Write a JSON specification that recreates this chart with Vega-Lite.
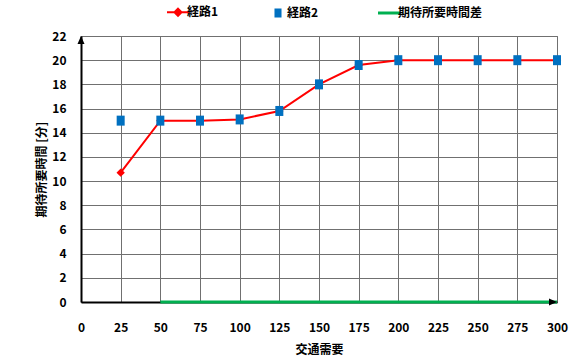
{
  "$schema": "https://vega.github.io/schema/vega-lite/v6.json",
  "width": 476,
  "height": 266,
  "autosize": "none",
  "padding": {"left": 81, "top": 36, "right": 17, "bottom": 58},
  "background": "white",
  "config": {
    "view": {"stroke": "#707070", "strokeWidth": 1},
    "font": "Liberation Sans Narrow, Noto Sans CJK JP",
    "axis": {
      "labelFont": "Liberation Sans Narrow, Noto Sans CJK JP",
      "labelFontWeight": "bold",
      "labelFontSize": 12,
      "labelColor": "#000000",
      "titleFont": "Liberation Sans Narrow, Noto Sans CJK JP",
      "titleFontWeight": "bold",
      "titleFontSize": 12,
      "titleColor": "#000000",
      "gridColor": "#707070",
      "gridWidth": 1,
      "gridOpacity": 1,
      "ticks": false,
      "domainColor": "#000000",
      "domainWidth": 2
    }
  },
  "datasets": {
    "main": [
      {"series": "経路1", "x": 25, "y": 10.7},
      {"series": "経路1", "x": 50, "y": 15},
      {"series": "経路1", "x": 75, "y": 15},
      {"series": "経路1", "x": 100, "y": 15.1},
      {"series": "経路1", "x": 125, "y": 15.8},
      {"series": "経路1", "x": 150, "y": 18},
      {"series": "経路1", "x": 175, "y": 19.6},
      {"series": "経路1", "x": 200, "y": 20},
      {"series": "経路1", "x": 225, "y": 20},
      {"series": "経路1", "x": 250, "y": 20},
      {"series": "経路1", "x": 275, "y": 20},
      {"series": "経路1", "x": 300, "y": 20},
      {"series": "経路2", "x": 25, "y": 15},
      {"series": "経路2", "x": 50, "y": 15},
      {"series": "経路2", "x": 75, "y": 15},
      {"series": "経路2", "x": 100, "y": 15.1},
      {"series": "経路2", "x": 125, "y": 15.8},
      {"series": "経路2", "x": 150, "y": 18},
      {"series": "経路2", "x": 175, "y": 19.6},
      {"series": "経路2", "x": 200, "y": 20},
      {"series": "経路2", "x": 225, "y": 20},
      {"series": "経路2", "x": 250, "y": 20},
      {"series": "経路2", "x": 275, "y": 20},
      {"series": "経路2", "x": 300, "y": 20},
      {"series": "期待所要時間差", "x": 50, "y": 0},
      {"series": "期待所要時間差", "x": 75, "y": 0},
      {"series": "期待所要時間差", "x": 100, "y": 0},
      {"series": "期待所要時間差", "x": 125, "y": 0},
      {"series": "期待所要時間差", "x": 150, "y": 0},
      {"series": "期待所要時間差", "x": 175, "y": 0},
      {"series": "期待所要時間差", "x": 200, "y": 0},
      {"series": "期待所要時間差", "x": 225, "y": 0},
      {"series": "期待所要時間差", "x": 250, "y": 0},
      {"series": "期待所要時間差", "x": 275, "y": 0},
      {"series": "期待所要時間差", "x": 300, "y": 0}
    ],
    "arrows": [
      {"dir": "up", "x": 0, "y": 22},
      {"dir": "right", "x": 300, "y": 0}
    ]
  },
  "data": {"name": "main"},
  "encoding": {
    "x": {
      "field": "x", "type": "quantitative",
      "scale": {"domain": [0, 300], "nice": false},
      "axis": {"values": [0, 25, 50, 75, 100, 125, 150, 175, 200, 225, 250, 275, 300], "labelPadding": 20, "title": "交通需要", "titlePadding": 11, "labelFlush": false}
    },
    "y": {
      "field": "y", "type": "quantitative",
      "scale": {"domain": [0, 22], "nice": false},
      "axis": {"values": [0, 2, 4, 6, 8, 10, 12, 14, 16, 18, 20, 22], "labelPadding": 15, "title": "期待所要時間 [分]", "titlePadding": 3}
    }
  },
  "layer": [
    {
      "transform": [{"filter": "datum.series === '期待所要時間差'"}],
      "mark": {"type": "line", "color": "#00B050", "strokeWidth": 3}
    },
    {
      "transform": [{"filter": "datum.series === '経路1'"}],
      "mark": {"type": "line", "color": "#FF0000", "strokeWidth": 2}
    },
    {
      "transform": [{"filter": "datum.series === '経路1'"}],
      "mark": {"type": "point", "filled": true, "color": "#FF0000", "opacity": 1, "shape": "diamond", "size": 70}
    },
    {
      "transform": [{"filter": "datum.series === '経路2'"}],
      "mark": {"type": "point", "filled": true, "color": "#0070C0", "opacity": 1, "shape": "M-0.8,-1H0.8V1H-0.8Z", "size": 100}
    },
    {
      "mark": {"type": "point", "filled": true, "opacity": 0},
      "encoding": {
        "color": {
          "field": "series", "type": "nominal",
          "scale": {"domain": ["経路1", "経路2", "期待所要時間差"], "range": ["#FF0000", "#0070C0", "#00B050"]},
          "legend": {
            "orient": "none", "legendX": 91, "legendY": -30, "direction": "horizontal",
            "title": null, "symbolSize": 484, "labelOffset": 3, "columnPadding": 53,
            "labelFont": "Liberation Sans Narrow, Noto Sans CJK JP", "labelFontWeight": "bold", "labelFontSize": 12, "labelColor": "#000000",
            "encode": {"symbols": {"update": {
              "fill": {"scale": "color", "field": "value"},
              "stroke": {"scale": "color", "field": "value"},
              "shape": {"signal": "datum.value === '経路1' ? 'M-1,0H1M0,-0.32L0.32,0L0,0.32L-0.32,0Z' : (datum.value === '経路2' ? 'M-0.32,-0.41H0.32V0.41H-0.32Z' : 'M-1,0H1')"},
              "opacity": {"value": 1},
              "fillOpacity": {"value": 1},
              "strokeOpacity": {"value": 1},
              "strokeWidth": {"signal": "datum.value === '期待所要時間差' ? 3 : (datum.value === '経路2' ? 0 : 2)"}
            }}}
          }
        }
      }
    },
    {
      "data": {"name": "arrows"},
      "transform": [{"filter": "datum.dir === 'up'"}],
      "mark": {"type": "point", "filled": true, "color": "#000000", "opacity": 1, "size": 100, "shape": "M0,0L-0.7,1.6L0.7,1.6Z"}
    },
    {
      "data": {"name": "arrows"},
      "transform": [{"filter": "datum.dir === 'right'"}],
      "mark": {"type": "point", "filled": true, "color": "#000000", "opacity": 1, "size": 100, "shape": "M0,0L-1.6,-0.7L-1.6,0.7Z"}
    }
  ]
}
